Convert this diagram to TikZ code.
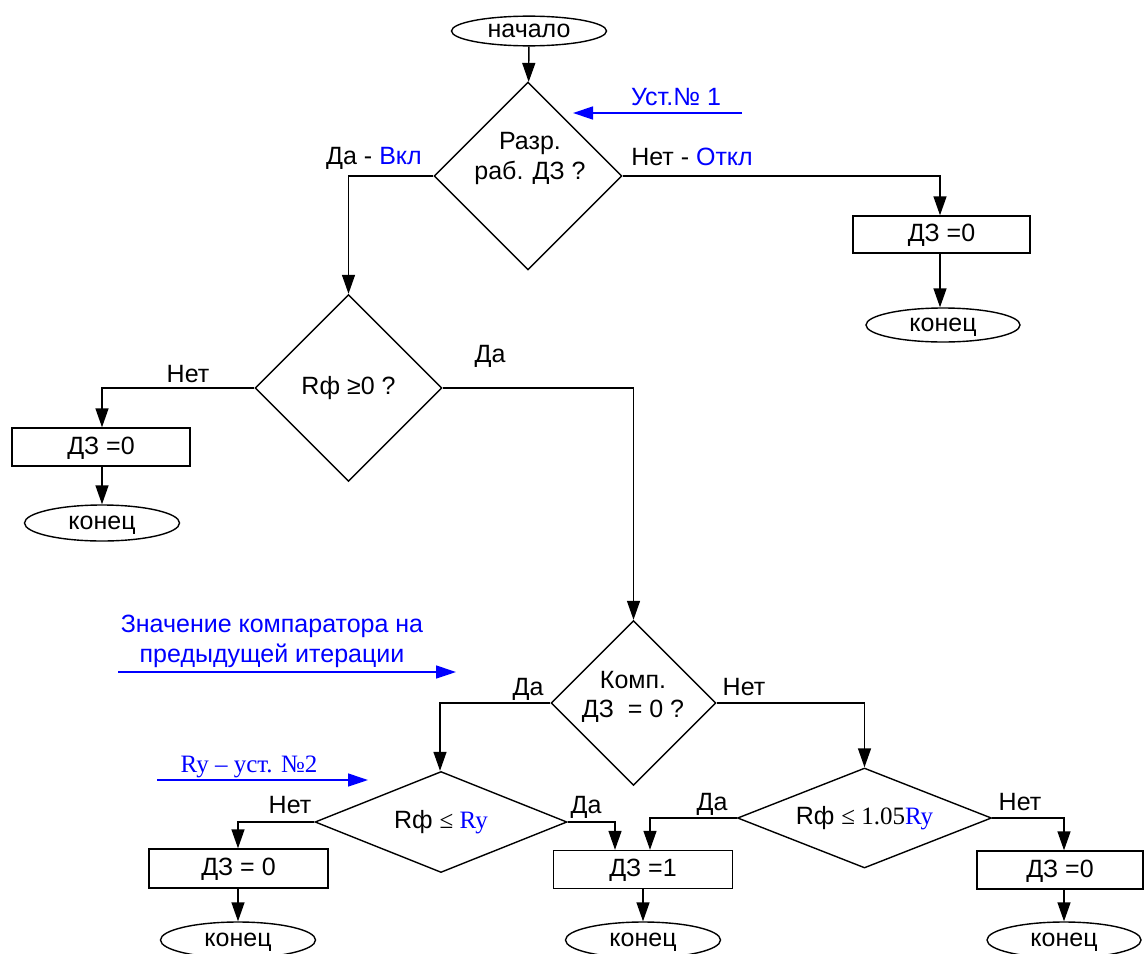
\documentclass[tikz,border=0pt]{standalone}
\usepackage{fontspec}
\setmainfont{Liberation Sans}
\newfontfamily\tms{Liberation Serif}
\usetikzlibrary{shapes.geometric,arrows.meta}
\definecolor{noteblue}{RGB}{0,0,255}
\begin{document}
\begin{tikzpicture}[x=1pt,y=-1pt,line width=1.4pt,
  font=\fontsize{25}{30}\selectfont,
  arr/.style={-{Triangle[length=19pt,width=13pt]}},
  bluearr/.style={draw=noteblue,-{Triangle[length=20pt,width=13pt]}},
  term/.style={draw,ellipse,inner sep=0pt,text height=17pt,text depth=4pt},
  proc/.style={draw,rectangle,inner sep=0pt,text height=18pt,text depth=4pt},
  decide/.style={draw,diamond,inner sep=0pt},
  lbl/.style={inner sep=0pt,text height=18pt,text depth=4pt},
  para/.style={inner sep=0pt,align=center},
  blue/.style={text=noteblue}]
\useasboundingbox (0,0) rectangle (1145,953);

% terminals, decisions and process boxes
\node[term,minimum width=155pt,minimum height=25pt] (start) at (529,31) {начало};
\node[decide,minimum width=188pt,minimum height=188pt] (d1) at (528,176) {};
\node[para] (d1t) at (530,158.5) {Разр.\\раб. ДЗ ?};
\node[proc,minimum width=177pt,minimum height=37pt] (b1) at (941.5,234.5) {ДЗ =0};
\node[term,minimum width=154pt,minimum height=34pt] (e1) at (943,325) {конец};

\node[decide,minimum width=187pt,minimum height=187pt] (d2) at (348.5,388) {Rф ≥0 ?};
\node[proc,minimum width=178pt,minimum height=38pt] (b2) at (101,447) {ДЗ =0};
\node[term,minimum width=155pt,minimum height=36pt] (e2) at (102,523) {конец};

\node[decide,minimum width=165pt,minimum height=165pt] (d3) at (633.5,703) {};
\node[para,font=\fontsize{25}{29}\selectfont] (d3t) at (633,697) {Комп.\\ДЗ~~= 0 ?};

\node[decide,shape aspect=2.5,minimum width=252pt,minimum height=101pt] (d4) at (441,822)
  {Rф {\tms ≤ \textcolor{noteblue}{Ry}}};
\node[proc,minimum width=179pt,minimum height=39pt] (b4) at (238.5,868.5) {ДЗ = 0};
\node[term,minimum width=155pt,minimum height=36pt] (e4) at (238,940) {конец};

\node[decide,shape aspect=2.5,minimum width=254pt,minimum height=100pt] (d5) at (864.5,818)
  {Rф {\tms ≤ 1.05\textcolor{noteblue}{Ry}}};
\node[proc,minimum width=179pt,minimum height=38pt] (b5) at (643,869.5) {ДЗ~=1};
\node[term,minimum width=155pt,minimum height=36pt] (e5) at (643,940) {конец};
\node[proc,minimum width=166pt,minimum height=38pt] (b6) at (1060,870) {ДЗ =0};
\node[term,minimum width=154pt,minimum height=36pt] (e6) at (1064,940) {конец};

% branch labels
\node[lbl] (l1) at (374,157) {Да - \textcolor{noteblue}{Вкл}};
\node[lbl] (l2) at (692,158) {Нет - \textcolor{noteblue}{Откл}};
\node[lbl] (l3) at (188,375) {Нет};
\node[lbl] (l4) at (490,355) {Да};
\node[lbl] (l5) at (528,688) {Да};
\node[lbl] (l6) at (744,688) {Нет};
\node[lbl] (l7) at (290,806) {Нет};
\node[lbl] (l8) at (586,806) {Да};
\node[lbl] (l9) at (712,803) {Да};
\node[lbl] (l10) at (1020,803) {Нет};

% external inputs
\node[lbl,blue] (n1) at (676,98) {Уст.№ 1};
\coordinate (n1a) at (742,113);
\coordinate (n1b) at (573,113);
\draw[bluearr] (n1a) -- (n1b);

\node[para,blue,font=\fontsize{25}{30}\selectfont] (n2) at (272,641) {Значение компаратора на\\предыдущей итерации};
\coordinate (n2a) at (118,672);
\coordinate (n2b) at (456,672);
\draw[bluearr] (n2a) -- (n2b);

\node[lbl,blue,font=\fontsize{25}{30}\tms] (n3) at (249,765) {Ry – уст. №2};
\coordinate (n3a) at (157,780);
\coordinate (n3b) at (368,780);
\draw[bluearr] (n3a) -- (n3b);

% flow lines
\draw[arr] (start) -- (d1);
\draw[arr] (d1.west) -| (d2.north);
\draw[arr] (d1.east) -| ([xshift=-1.5pt]b1.north);
\draw[arr] ([xshift=-1.5pt]b1.south) -- ([xshift=-3pt]e1.north);
\draw[arr] (d2.west) -| ([xshift=1pt]b2.north);
\draw[arr] ([xshift=1pt]b2.south) -- (e2.north);
\draw[arr] (d2.east) -| (d3.north);
\draw[arr] (d3.west) -| ([xshift=-1pt]d4.north);
\draw[arr] (d3.east) -| (d5.north);
\draw[arr] (d4.west) -| ([xshift=-0.5pt]b4.north);
\draw[arr] ([xshift=-0.5pt]b4.south) -- (e4.north);
\draw[arr] (d4.east) -| ([xshift=-28pt]b5.north);
\draw[arr] (d5.west) -| ([xshift=7pt]b5.north);
\draw[arr] (b5.south) -- (e5.north);
\draw[arr] (d5.east) -| ([xshift=4pt]b6.north);
\draw[arr] ([xshift=4pt]b6.south) -- (e6.north);
\end{tikzpicture}
\end{document}
